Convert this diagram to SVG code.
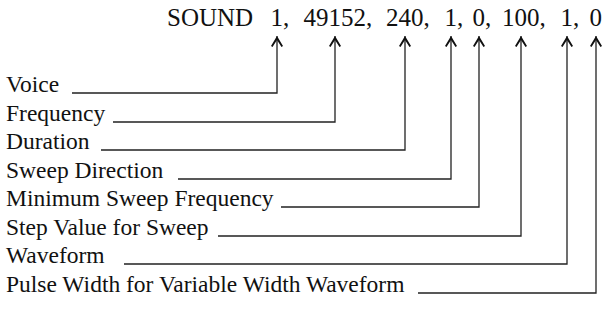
<svg xmlns="http://www.w3.org/2000/svg" width="610" height="321" viewBox="0 0 610 321">
<style>
text{font-family:"Liberation Serif","Times New Roman",serif;font-size:23.5px;fill:#111}
.t{font-size:25px}
.c{fill:none;stroke:#222;stroke-width:1.3;marker-end:url(#ah)}
</style>
<defs>
<marker id="ah" viewBox="-12 -8 13 16" markerWidth="13" markerHeight="16" refX="0" refY="0" orient="auto" markerUnits="userSpaceOnUse">
<path d="M0,0 L-10,-6 L-11,-4.5 L-4,0 L-11,4.5 L-10,6 Z" fill="#111"/>
</marker>
</defs>
<rect width="610" height="321" fill="#fff"/>
<g id="command">
<text class="t" y="26"><tspan x="167">SOUND </tspan><tspan x="270.5">1, </tspan><tspan x="303.5">49152, </tspan><tspan x="386">240, </tspan><tspan x="444.5">1, </tspan><tspan x="472.5">0, </tspan><tspan x="502">100, </tspan><tspan x="560.5">1, </tspan><tspan x="589.5">0</tspan></text>
</g>
<g id="voice"><text x="6" y="92">Voice</text></g>
<g id="frequency"><text x="6" y="121">Frequency</text></g>
<g id="duration"><text x="6" y="149">Duration</text></g>
<g id="sweep-direction"><text x="6" y="178">Sweep Direction</text></g>
<g id="min-sweep-frequency"><text x="6" y="206">Minimum Sweep Frequency</text></g>
<g id="step-value"><text x="6" y="235">Step Value for Sweep</text></g>
<g id="waveform"><text x="6" y="263">Waveform</text></g>
<g id="pulse-width"><text x="6" y="292">Pulse Width for Variable Width Waveform</text></g>
<g id="connectors">
<path class="c" d="M72,93 H277 V36"/>
<path class="c" d="M113,122 H335 V36"/>
<path class="c" d="M101,150 H405 V36"/>
<path class="c" d="M178,179 H451 V36"/>
<path class="c" d="M281,207 H479 V36"/>
<path class="c" d="M218,236 H521 V36"/>
<path class="c" d="M124,264 H567 V36"/>
<path class="c" d="M418,293 H596 V36"/>
</g>
</svg>
